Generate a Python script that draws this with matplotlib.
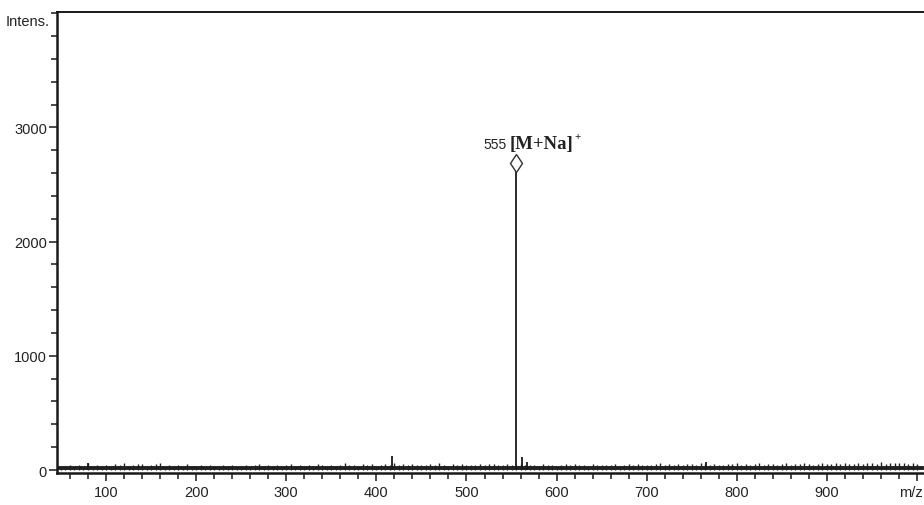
import matplotlib
matplotlib.use("Agg")
import matplotlib.pyplot as plt
import matplotlib.transforms as mtransforms
from matplotlib.ticker import MultipleLocator, FixedLocator

# ---------------- data ----------------
noise_start = 50
noise_step = 5
noise_int = [
    38, 30, 46, 34, 42, 30, 62, 36, 44, 32, 48, 36, 54, 40, 58, 32, 40, 50, 56, 34,
    42, 52, 60, 36, 44, 34, 42, 30, 50, 38, 34, 44, 30, 42, 36, 32, 46, 34, 40, 30,
    36, 44, 32, 40, 50, 34, 42, 36, 46, 32, 40, 54, 36, 42, 34, 44, 32, 50, 40, 36,
    42, 34, 48, 58, 40, 44, 36, 52, 42, 56, 36, 48, 54, 42, 60, 44, 52, 40, 50, 42,
    48, 40, 52, 42, 58, 44, 36, 50, 42, 54, 40, 48, 44, 52, 42, 50, 56, 42, 48, 52,
    44, 42, 50, 40, 42, 48, 34, 52, 40, 44, 36, 42, 50, 40, 54, 42, 48, 36, 50, 44,
    40, 48, 42, 52, 36, 44, 50, 42, 54, 40, 48, 42, 52, 58, 44, 50, 42, 56, 48, 54,
    50, 42, 58, 52, 44, 54, 48, 42, 56, 50, 64, 48, 54, 44, 52, 58, 48, 54, 50, 44,
    52, 58, 48, 54, 50, 60, 52, 48, 56, 62, 50, 54, 58, 52, 64, 56, 50, 60, 54, 58,
    62, 56, 66, 54, 60, 64, 58, 62, 56, 60, 54,
]
noise_mz = [noise_start + noise_step * i for i in range(len(noise_int))]

peak_mz = [80, 417, 555, 562, 567, 766]
peak_int = [62, 122, 2690, 113, 70, 72]

label_mz = 555
label_int = 2690
label_num = "555"
label_ion = "[M+Na]"
label_charge = "+"

ytick_major = [0, 1000, 2000, 3000]
xtick_major = [100, 200, 300, 400, 500, 600, 700, 800, 900, 1000]
xtick_labels = ["100", "200", "300", "400", "500", "600", "700", "800", "900", "m/z"]

sans = "Liberation Sans"
serif = "Liberation Serif"
ink = "#1a1a1a"
txt = "#222222"

fig = plt.figure(figsize=(9.24, 5.06), dpi=100)
ax = fig.add_axes([57 / 924, 1 - 474 / 506, 1 - 57 / 924, (474 - 13) / 506])

# noise band
ax.vlines(noise_mz, 0, noise_int, color="#202020", lw=1.0)
ax.plot([noise_mz[0] - 5, noise_mz[-1] + 5], [16, 16], color="#202020", lw=2.8)
# peaks
ax.vlines(peak_mz, 0, peak_int, color=ink, lw=1.3)
ax.plot([label_mz], [label_int], marker="d", ms=9.5, mfc="white", mec="#333333", mew=1.0, zorder=5)

ax.annotate(label_num, (label_mz, label_int), xytext=(-9, 15), textcoords="offset pixels",
            ha="right", va="baseline", fontsize=10, family=sans, color=txt)
ax.annotate(label_ion, (label_mz, label_int), xytext=(-6, 15), textcoords="offset pixels",
            ha="left", va="baseline", fontsize=13.5, family=serif, weight="bold", color=txt)
ax.annotate(label_charge, (label_mz, label_int), xytext=(58, 24), textcoords="offset pixels",
            ha="left", va="baseline", fontsize=8, family=serif, weight="bold", color=txt)

ax.set_xlim(45.6, 1007.7)
ax.set_ylim(-26, 4010)

ax.spines["right"].set_visible(False)
ax.spines["left"].set_linewidth(1.8)
ax.spines["bottom"].set_linewidth(1.8)
ax.spines["top"].set_linewidth(1.4)
for s in ax.spines.values():
    s.set_color(ink)

ax.xaxis.set_major_locator(FixedLocator(xtick_major))
ax.set_xticklabels(xtick_labels)
ax.xaxis.set_minor_locator(MultipleLocator(20))
ax.yaxis.set_major_locator(FixedLocator(ytick_major))
ax.yaxis.set_minor_locator(MultipleLocator(200))
ax.tick_params(axis="both", which="major", direction="out", length=5.8, width=1.1, colors=ink,
               labelsize=10.5, pad=1.5)
ax.tick_params(axis="x", which="major", pad=3)
ax.tick_params(axis="both", which="minor", direction="out", length=4.3, width=1.1, colors=ink)
for lab in ax.get_xticklabels() + ax.get_yticklabels():
    lab.set_family(sans)
    lab.set_color(txt)
# keep the last x label ("m/z") inside the figure
last = ax.get_xticklabels()[-1]
last.set_transform(last.get_transform() +
                   mtransforms.ScaledTranslation(-6 / 100, 0, fig.dpi_scale_trans))

intens_tr = mtransforms.blended_transform_factory(
    mtransforms.offset_copy(ax.transAxes, fig=fig, x=-7, y=0, units="dots"), ax.transData)
ax.text(0, 3930, "Intens.", transform=intens_tr,
        ha="right", va="center", fontsize=10.5, family=sans, color=txt)

fig.savefig("out.png", dpi=100)
